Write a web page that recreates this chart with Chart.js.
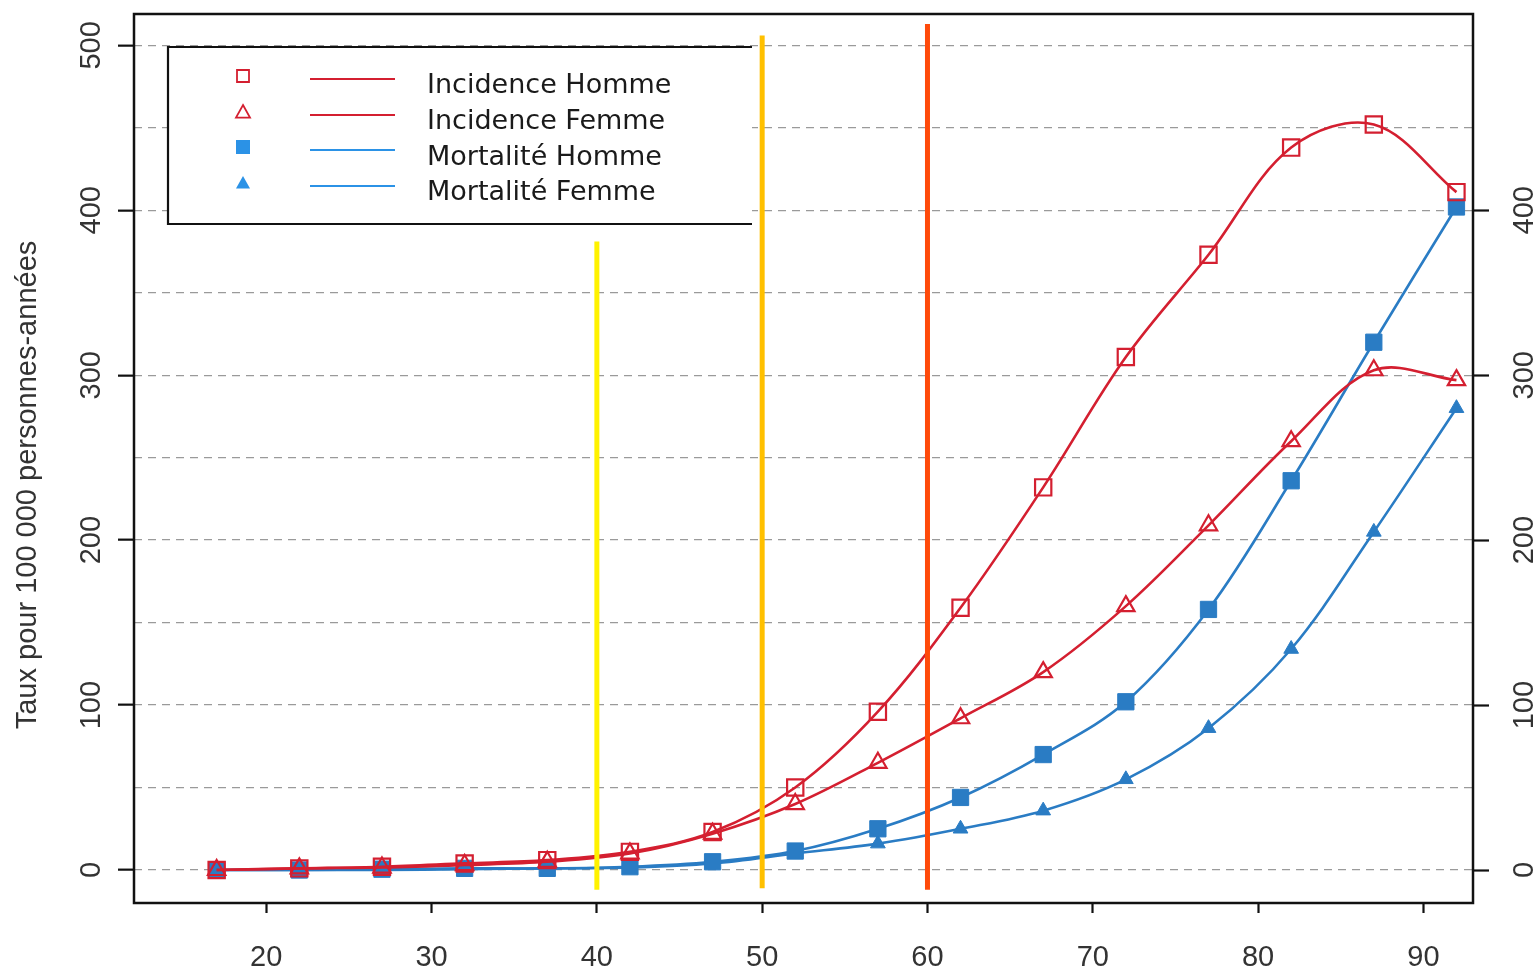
<!DOCTYPE html>
<html><head><meta charset="utf-8">
<script src="https://cdn.jsdelivr.net/npm/chart.js@4.4.1/dist/chart.umd.min.js"></script>
<style>html,body{margin:0;padding:0;background:#fff;overflow:hidden}canvas{display:block}</style>
</head><body><canvas id="c" width="1537" height="971"></canvas>
<script>
// ---- data ----
const ages = [17,22,27,32,37,42,47,52,57,62,67,72,77,82,87,92];
const incidenceHomme = [0,1,2,4,6,11,23,50,96,159,232,311,373,438,452,411];
const incidenceFemme = [0,1,1.5,3,5,10,22,40,65,92,120,160,209,260,303,297];
const mortaliteHomme = [0,0,0.5,1,1,2,5,11.5,25,44,70,102,158,236,320,402];
const mortaliteFemme = [0,0,0,0.5,1,1.5,4,10,16,25,36,55,86,134,205,280];
const seriesLabels = ['Incidence Homme','Incidence Femme','Mortalité Homme','Mortalité Femme'];
const xTicks = [20,30,40,50,60,70,80,90];
const yTicksLeft = [0,100,200,300,400,500];
const yTicksRight = [0,100,200,300,400];
const markerAges = [40,50,60];
const markerTops = [381,506,513];
const markerBottoms = [-12,-11,-12];
const yTitle = 'Taux pour 100 000 personnes-années';

// ---- styles ----
const RED = '#d41f30';
const BLUE = '#2a7cc4';
const LEG_BLUE = '#2b92e6';
const markerColors = ['#fff200','#ffc000','#ff4a0a'];
const FONT = "'Liberation Sans', Arial, sans-serif";
const LEG_FONT = "'DejaVu Sans', sans-serif";

const toXY = arr => ages.map((a,i)=>({x:a,y:arr[i]}));

const markerSets = markerAges.map((a,i)=>({
  label:'m'+a, data:[{x:a,y:markerBottoms[i]},{x:a,y:markerTops[i]}],
  borderColor:markerColors[i], borderWidth:5, pointRadius:0, tension:0, order:-1, fill:false
}));

const datasets = [
  {label:seriesLabels[0], data:toXY(incidenceHomme), borderColor:RED, borderWidth:2.6,
   pointStyle:'rect', pointRadius:11.5, pointBorderWidth:2.2, pointBackgroundColor:'rgba(255,255,255,0)', pointBorderColor:RED,
   legendStyle:{type:'rect', fill:false, color:RED, line:RED}},
  {label:seriesLabels[1], data:toXY(incidenceFemme), borderColor:RED, borderWidth:2.6,
   pointStyle:'triangle', pointRadius:10, pointBorderWidth:2.2, pointBackgroundColor:'rgba(255,255,255,0)', pointBorderColor:RED,
   legendStyle:{type:'triangle', fill:false, color:RED, line:RED}},
  {label:seriesLabels[2], data:toXY(mortaliteHomme), borderColor:BLUE, borderWidth:2.6,
   pointStyle:'rect', pointRadius:11.5, pointBorderWidth:1, pointBackgroundColor:BLUE, pointBorderColor:BLUE,
   legendStyle:{type:'rect', fill:true, color:LEG_BLUE, line:LEG_BLUE}},
  {label:seriesLabels[3], data:toXY(mortaliteFemme), borderColor:BLUE, borderWidth:2.6,
   pointStyle:'triangle', pointRadius:8.5, pointBorderWidth:1, pointBackgroundColor:BLUE, pointBorderColor:BLUE,
   legendStyle:{type:'triangle', fill:true, color:LEG_BLUE, line:LEG_BLUE}}
];
datasets.forEach(d=>{d.tension=0.35; d.fill=false; d.pointHoverRadius=d.pointRadius;});

const keepFifties = () => s => { s.ticks = s.ticks.filter(t => t.value >= 0 && t.value % 50 === 0); };

const overlay = {
  id:'overlay',
  afterDraw(chart){
    const ctx = chart.ctx, ca = chart.chartArea;
    const ys = chart.scales.y, ys2 = chart.scales.y2;
    ctx.save();
    // legend box
    const L=168, T=47, R=752, B=224;
    ctx.fillStyle='#fff'; ctx.fillRect(L,T,R-L,B-T);
    ctx.strokeStyle='#111'; ctx.lineWidth=2.2;
    ctx.beginPath(); ctx.moveTo(R,T); ctx.lineTo(L,T); ctx.lineTo(L,B); ctx.lineTo(R,B); ctx.stroke();
    const rows=[78,114,149,185];
    const baselines=[93,129,164.5,200];
    chart.data.datasets.filter(d=>d.legendStyle).forEach((d,i)=>{
      const st=d.legendStyle, y=rows[i], mx=243, my=y-2, r=7;
      ctx.lineWidth=1.8; ctx.strokeStyle=st.color; ctx.fillStyle=st.color;
      ctx.beginPath();
      if(st.type==='rect'){ const o=st.fill?0:1; ctx.rect(mx-r+o, my-r+o, 2*r-2*o, 2*r-2*o); }
      else { ctx.moveTo(mx,my-r); ctx.lineTo(mx+r,my+r*0.8); ctx.lineTo(mx-r,my+r*0.8); ctx.closePath(); }
      if(st.fill) ctx.fill(); else ctx.stroke();
      ctx.strokeStyle=st.line; ctx.lineWidth=2.2;
      ctx.beginPath(); ctx.moveTo(310,y+1); ctx.lineTo(395,y+1); ctx.stroke();
      ctx.fillStyle='#1a1a1a'; ctx.font='27px '+LEG_FONT; ctx.textAlign='left'; ctx.textBaseline='alphabetic';
      ctx.fillText(d.label, 427, baselines[i]);
    });
    // frame
    ctx.strokeStyle='#111'; ctx.lineWidth=2.5;
    ctx.strokeRect(ca.left, ca.top, ca.right-ca.left, ca.bottom-ca.top);
    // rotated y tick labels
    ctx.fillStyle='#333'; ctx.font='29px '+FONT; ctx.textAlign='center'; ctx.textBaseline='middle';
    yTicksLeft.forEach(v=>{
      const py=ys.getPixelForValue(v);
      ctx.save(); ctx.translate(92,py); ctx.rotate(-Math.PI/2); ctx.fillText(String(v),0,0); ctx.restore();
    });
    yTicksRight.forEach(v=>{
      const py=ys2.getPixelForValue(v);
      ctx.save(); ctx.translate(1525,py); ctx.rotate(-Math.PI/2); ctx.fillText(String(v),0,0); ctx.restore();
    });
    // y title
    ctx.font='29px '+FONT; ctx.fillStyle='#333';
    ctx.save(); ctx.translate(28,485); ctx.rotate(-Math.PI/2); ctx.fillText(yTitle,0,0); ctx.restore();
    ctx.restore();
  }
};

new Chart(document.getElementById('c'), {
  type:'line',
  data:{datasets:[...markerSets, ...datasets]},
  options:{
    responsive:false, animation:false, events:[],
    layout:{padding:{top:14,left:0,right:0,bottom:0}},
    plugins:{legend:{display:false}, tooltip:{enabled:false}},
    scales:{
      x:{type:'linear', min:12, max:93,
         afterBuildTicks:s=>{ s.ticks = xTicks.map(v=>({value:v})); },
         afterFit:s=>{ s.height=68; },
         ticks:{color:'#333', font:{family:FONT, size:29}, padding:28, maxRotation:0, autoSkip:false},
         grid:{drawOnChartArea:false, drawTicks:true, tickLength:10, tickColor:'#111', tickWidth:2.2},
         border:{display:false}},
      y:{type:'linear', position:'left', min:-20, max:519,
         afterBuildTicks:keepFifties(),
         afterFit:s=>{ s.width=134; },
         ticks:{display:false, stepSize:50},
         grid:{color:'#9a9a9a', lineWidth:1.3, drawTicks:true, tickLength:16, tickWidth:2.2,
               tickColor:c=>(c.tick && c.tick.value%100===0)?'#111':'rgba(0,0,0,0)'},
         border:{display:false, dash:[8,6]}},
      y2:{type:'linear', position:'right', min:-20, max:519,
         afterBuildTicks:s=>{ s.ticks = yTicksRight.map(v=>({value:v})); },
         afterFit:s=>{ s.width=64; },
         ticks:{display:false},
         grid:{drawOnChartArea:false, drawTicks:true, tickLength:16, tickWidth:2.2, tickColor:'#111'},
         border:{display:false}}
    }
  },
  plugins:[overlay]
});
</script>
</body></html>
